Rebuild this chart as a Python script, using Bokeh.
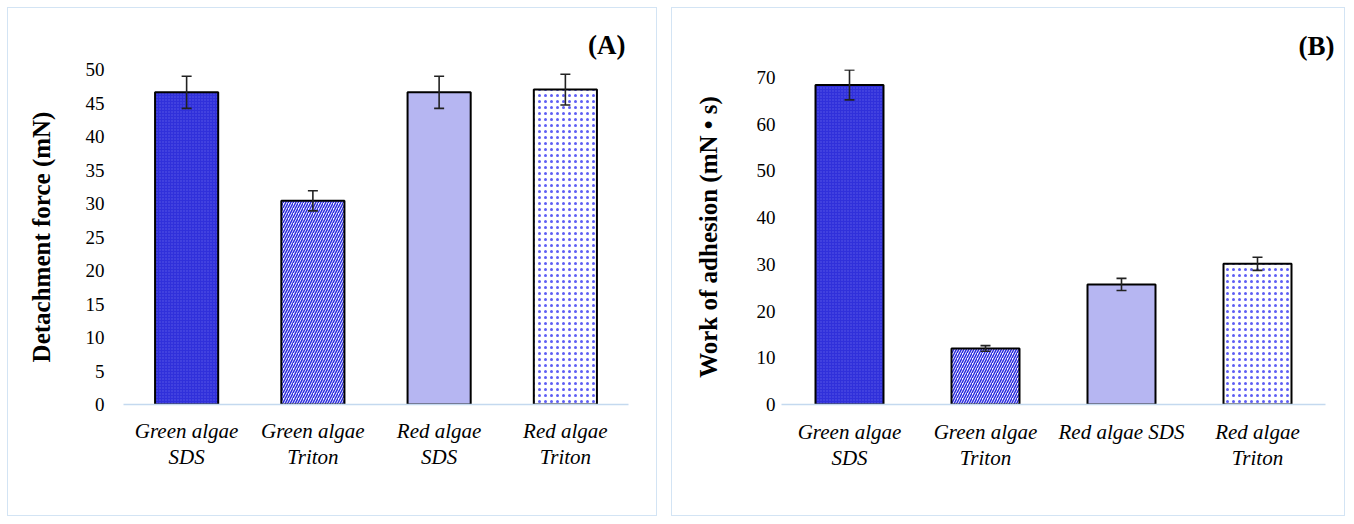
from bokeh.plotting import figure
from bokeh.models import ColumnDataSource, Whisker, TeeHead, FactorRange, Title
from bokeh.layouts import row
from bokeh.embed import file_html
from bokeh.resources import INLINE

categories = ["Green algae\nSDS", "Green algae\nTriton", "Red algae\nSDS", "Red algae\nTriton"]
categories_b = ["Green algae\nSDS", "Green algae\nTriton", "Red algae SDS", "Red algae\nTriton"]
detach_force = [46.6, 30.4, 46.6, 47.0]
detach_err = [2.4, 1.5, 2.4, 2.3]
work_adhesion = [68.4, 12.0, 25.7, 30.1]
work_err = [3.2, 0.6, 1.3, 1.4]
y_ticks_a = list(range(0, 51, 5))
y_ticks_b = list(range(0, 71, 10))

fill_colors = ["#3030da", "#ffffff", "#b6b6f2", "#ffffff"]
hatch_patterns = [".", "/", " ", "."]
hatch_colors = ["#5a5ae6", "#2c2ce0", "#b6b6f2", "#5e5ef4"]
hatch_scales = [3, 5, 5, 6]
hatch_weights = [0.8, 1.5, 1.0, 0.45]

SERIF = "Liberation Serif"
FRAME = "#d3e4f4"


def panel(cats, vals, errs, ticks, ymax, ylabel, tag, w, h, borders,
          tag_offset, tag_standoff, tick_standoff, label_standoff, cat_standoff, margin):
    bl, br, bt, bb = borders
    p = figure(width=w, height=h, x_range=FactorRange(*cats, range_padding=0),
               y_range=(0, ymax), output_backend="svg", toolbar_location=None,
               min_border_left=bl, min_border_right=br, min_border_top=bt,
               min_border_bottom=bb)
    p.margin = margin
    p.styles = {"border": f"1.5px solid {FRAME}", "box-sizing": "border-box"}
    p.outline_line_color = None
    p.xgrid.grid_line_color = None
    p.ygrid.grid_line_color = None
    p.background_fill_color = "white"
    p.border_fill_color = "white"

    src = ColumnDataSource(dict(x=cats, top=vals,
                                upper=[v + e for v, e in zip(vals, errs)],
                                lower=[v - e for v, e in zip(vals, errs)],
                                fill=fill_colors, hatch=hatch_patterns,
                                hcol=hatch_colors, hs=hatch_scales, hw=hatch_weights))
    p.vbar(x="x", top="top", width=0.5, source=src, fill_color="fill",
           hatch_pattern="hatch", hatch_color="hcol", hatch_scale="hs",
           hatch_weight="hw", line_color="black", line_width=2)
    wh = Whisker(source=src, base="x", upper="upper", lower="lower",
                 line_color="#222222", line_width=1.6, level="overlay",
                 upper_head=TeeHead(size=10, line_color="#222222", line_width=1.6),
                 lower_head=TeeHead(size=10, line_color="#222222", line_width=1.6))
    p.add_layout(wh)

    p.yaxis.ticker = ticks
    p.yaxis.axis_line_color = None
    p.yaxis.major_tick_line_color = None
    p.yaxis.minor_tick_line_color = None
    p.yaxis.major_tick_out = 0
    p.yaxis.major_tick_in = 0
    p.yaxis.major_label_text_font = SERIF
    p.yaxis.major_label_text_font_size = "19px"
    p.yaxis.major_label_text_color = "black"
    p.yaxis.major_label_standoff = tick_standoff
    p.yaxis.axis_label = ylabel
    p.yaxis.axis_label_text_font = SERIF
    p.yaxis.axis_label_text_font_style = "bold"
    p.yaxis.axis_label_text_font_size = "25px"
    p.yaxis.axis_label_text_color = "black"
    p.yaxis.axis_label_standoff = label_standoff

    p.xaxis.axis_line_color = "#c4d9ef"
    p.xaxis.axis_line_width = 1.5
    p.xaxis.major_tick_line_color = None
    p.xaxis.minor_tick_line_color = None
    p.xaxis.major_tick_out = 0
    p.xaxis.major_tick_in = 0
    p.xaxis.major_label_text_font = SERIF
    p.xaxis.major_label_text_font_style = "italic"
    p.xaxis.major_label_text_font_size = "21px"
    p.xaxis.major_label_text_color = "black"
    p.xaxis.major_label_standoff = cat_standoff
    p.xaxis.major_label_text_line_height = 1.1

    t = Title(text=tag, align="right", text_font=SERIF, text_font_style="bold",
              text_font_size="27px", text_color="black", standoff=tag_standoff,
              offset=tag_offset)
    p.add_layout(t, "above")
    return p


pa = panel(categories, detach_force, detach_err, y_ticks_a, 50,
           "Detachment force (mN)", "(A)", 650, 509, (115, 30, 61, 104), 3, 20,
           19, 28, 14, (7, 0, 0, 7))
pb = panel(categories_b, work_adhesion, work_err, y_ticks_b, 71.7,
           "Work of adhesion (mN • s)", "(B)", 674, 509, (109, 21, 61, 113), -9, 18,
           6, 32, 15, (7, 0, 0, 0))

layout = row(pa, pb, spacing=14)
open("out.html", "w").write(file_html(layout, INLINE))
